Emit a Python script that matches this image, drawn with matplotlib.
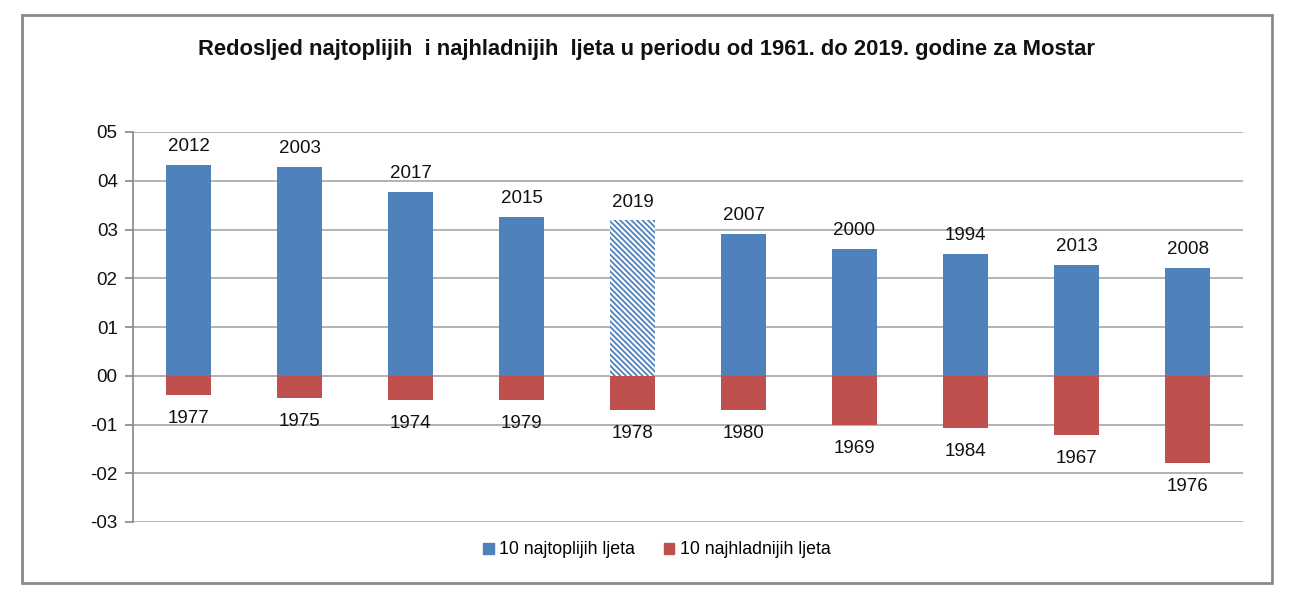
import matplotlib
matplotlib.use("Agg")
import matplotlib.pyplot as plt
from matplotlib.patches import Rectangle, Patch
import matplotlib.ticker as mticker

plt.rcParams["font.family"] = ["Liberation Sans", "DejaVu Sans"]
plt.rcParams["hatch.linewidth"] = 1.3

# data (anomalies, shown as 05 = 0.5 etc.)
warm_years = ["2012", "2003", "2017", "2015", "2019", "2007", "2000", "1994", "2013", "2008"]
warm_values = [0.432, 0.428, 0.377, 0.326, 0.319, 0.291, 0.260, 0.250, 0.227, 0.221]
cold_years = ["1977", "1975", "1974", "1979", "1978", "1980", "1969", "1984", "1967", "1976"]
cold_values = [-0.039, -0.045, -0.050, -0.050, -0.070, -0.070, -0.101, -0.107, -0.121, -0.179]
hatched_year = "2019"

BLUE = "#4F81BD"
RED = "#C0504D"
GRID = "#A6A6A6"

fig = plt.figure(figsize=(12.98, 6.06), dpi=100)
fig.patch.set_facecolor("white")
fig.add_artist(Rectangle((22 / 1298, 1 - 583 / 606), 1250 / 1298, 568 / 606,
                         transform=fig.transFigure, fill=False,
                         edgecolor="#898989", linewidth=2))

ax = fig.add_axes([133 / 1298, 84 / 606, 1110 / 1298, 390 / 606])
x = list(range(len(warm_years)))
width = 0.4

for i, (yr, v) in enumerate(zip(warm_years, warm_values)):
    if yr == hatched_year:
        ax.bar(i, v, width, facecolor="white", edgecolor=BLUE, hatch="\\\\\\\\\\\\",
               linewidth=0, zorder=3)
    else:
        ax.bar(i, v, width, color=BLUE, zorder=3)
    ax.annotate(yr, (i, v), xytext=(0, 7), textcoords="offset points",
                ha="center", va="bottom", fontsize=13.5, color="#111111")

ax.bar(x, cold_values, width, color=RED, zorder=3)
for i, (yr, v) in enumerate(zip(cold_years, cold_values)):
    ax.annotate(yr, (i, v), xytext=(0, -11), textcoords="offset points",
                ha="center", va="top", fontsize=13.5, color="#111111")

ax.set_xlim(-0.5, len(x) - 0.5)
ax.set_ylim(-0.3, 0.5)
ax.set_yticks([0.5, 0.4, 0.3, 0.2, 0.1, 0.0, -0.1, -0.2, -0.3])
ax.yaxis.set_major_formatter(
    mticker.FuncFormatter(lambda v, _: f"{v:.1f}".replace(".", "").replace("-00", "00")))
ax.set_xticks([])
ax.grid(axis="y", color=GRID, linewidth=1.2, zorder=0)
ax.set_axisbelow(True)
for side in ("top", "right", "bottom"):
    ax.spines[side].set_visible(False)
ax.spines["left"].set_color("#868686")
ax.spines["left"].set_linewidth(1.2)
ax.tick_params(axis="y", colors="#868686", length=6, width=1.2, labelsize=13.5,
               labelcolor="#111111", pad=5)

handles = [Patch(color=BLUE, label="10 najtoplijih ljeta"),
           Patch(color=RED, label="10 najhladnijih ljeta")]
fig.legend(handles=handles, loc="center", bbox_to_anchor=(657 / 1298, 1 - 550 / 606),
           ncol=2, frameon=False, fontsize=12.8, handlelength=0.6, handleheight=0.6,
           handletextpad=0.3, columnspacing=1.6)

fig.text(647 / 1298, 1 - 49 / 606,
         "Redosljed najtoplijih  i najhladnijih  ljeta u periodu od 1961. do 2019. godine za Mostar",
         ha="center", va="center", fontsize=15.8, fontweight="bold", color="#111111")

fig.savefig("out.png", dpi=100, facecolor="white")
